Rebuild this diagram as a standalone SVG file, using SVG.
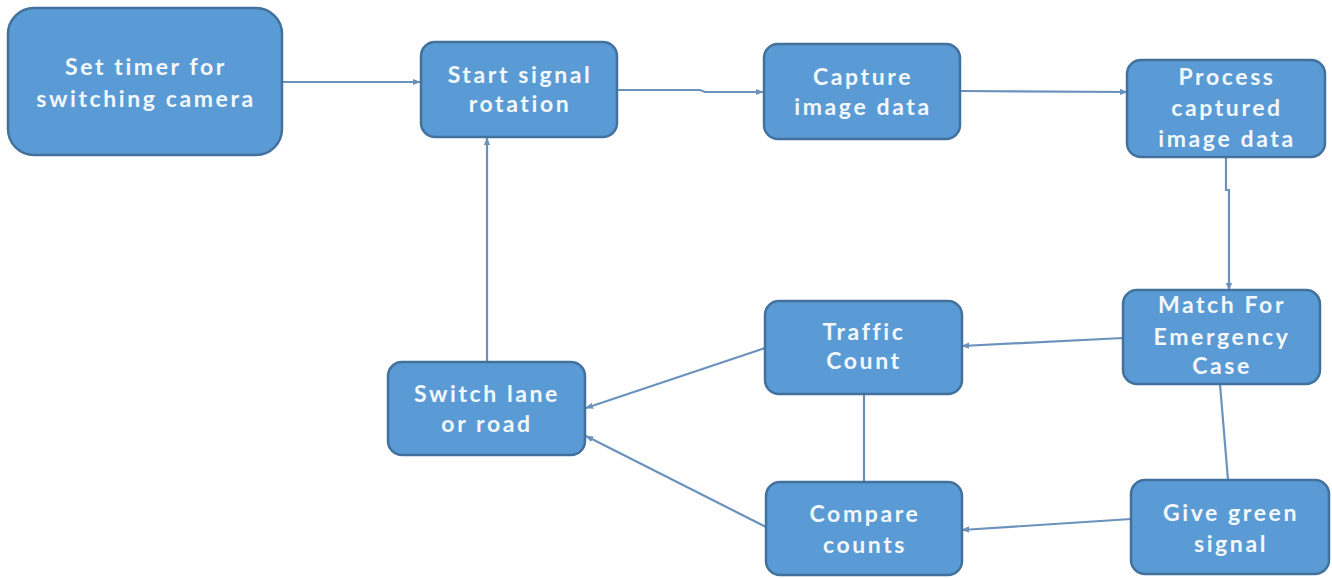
<svg xmlns="http://www.w3.org/2000/svg" width="1332" height="578" viewBox="0 0 1332 578">
<style>
.box{fill:#5B9BD5;stroke:#41719C;stroke-width:2.5}
.t{font-family:Lato,"DejaVu Sans",sans-serif;font-weight:bold;font-size:23px;letter-spacing:2.6px;fill:#F4F8FC;text-anchor:middle}
.c{fill:none;stroke:#6A92BC;stroke-width:2.2}
</style>
<defs>
<marker id="ah" viewBox="0 0 10 10" refX="9" refY="5" markerWidth="8" markerHeight="8" markerUnits="userSpaceOnUse" orient="auto">
<path d="M0,1 L10,5 L0,9 z" fill="#6A92BC"/>
</marker>
</defs>
<rect width="1332" height="578" fill="#FFFFFF"/>
<g id="connectors">
<line class="c" x1="283" y1="82" x2="420" y2="82" marker-end="url(#ah)"/>
<path class="c" d="M618,90 L700,90 L705,92 L763,92" marker-end="url(#ah)"/>
<line class="c" x1="960" y1="91" x2="1127" y2="92" marker-end="url(#ah)"/>
<path class="c" d="M1226,157 L1226,190 L1229,190 L1229,290" marker-end="url(#ah)"/>
<line class="c" x1="1123" y1="338" x2="962" y2="346" marker-end="url(#ah)"/>
<line class="c" x1="1220" y1="384" x2="1228" y2="480"/>
<line class="c" x1="1131" y1="519" x2="962" y2="530" marker-end="url(#ah)"/>
<line class="c" x1="864" y1="394" x2="864" y2="482"/>
<line class="c" x1="765" y1="348" x2="586" y2="408" marker-end="url(#ah)"/>
<line class="c" x1="766" y1="527" x2="586" y2="436" marker-end="url(#ah)"/>
<line class="c" x1="487" y1="362" x2="487" y2="138" marker-end="url(#ah)"/>
</g>
<g id="n1"><rect class="box" x="8" y="8" width="274" height="147" rx="26"/>
<text class="t" x="146" y="75">Set timer for</text><text class="t" x="146" y="107">switching camera</text></g>
<g id="n2"><rect class="box" x="421" y="42" width="196" height="95" rx="14"/>
<text class="t" x="520" y="83">Start signal</text><text class="t" x="520" y="112">rotation</text></g>
<g id="n3"><rect class="box" x="764" y="44" width="196" height="95" rx="14"/>
<text class="t" x="863" y="85">Capture</text><text class="t" x="863" y="115">image data</text></g>
<g id="n4"><rect class="box" x="1127" y="60" width="198" height="97" rx="14"/>
<text class="t" x="1227" y="85">Process</text><text class="t" x="1227" y="116">captured</text><text class="t" x="1227" y="147">image data</text></g>
<g id="n5"><rect class="box" x="1123" y="290" width="197" height="94" rx="14"/>
<text class="t" x="1222" y="313">Match For</text><text class="t" x="1222" y="345">Emergency</text><text class="t" x="1222" y="374">Case</text></g>
<g id="n6"><rect class="box" x="765" y="301" width="197" height="93" rx="14"/>
<text class="t" x="864" y="340">Traffic</text><text class="t" x="864" y="369">Count</text></g>
<g id="n7"><rect class="box" x="388" y="362" width="197" height="93" rx="14"/>
<text class="t" x="487" y="402">Switch lane</text><text class="t" x="487" y="432">or road</text></g>
<g id="n8"><rect class="box" x="766" y="482" width="196" height="93" rx="14"/>
<text class="t" x="865" y="522">Compare</text><text class="t" x="865" y="553">counts</text></g>
<g id="n9"><rect class="box" x="1131" y="480" width="198" height="94" rx="14"/>
<text class="t" x="1231" y="521">Give green</text><text class="t" x="1231" y="552">signal</text></g>
</svg>
